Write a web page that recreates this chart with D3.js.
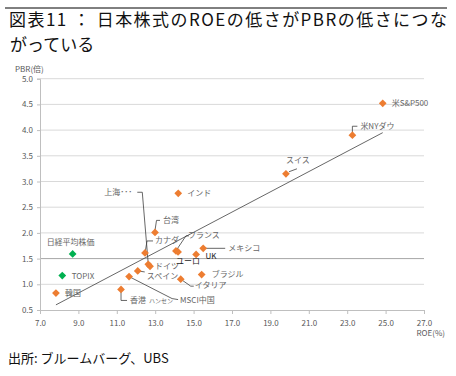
<!DOCTYPE html>
<html>
<head>
<meta charset="utf-8">
<script src="https://cdn.jsdelivr.net/npm/d3@7"></script>
<style>
body{margin:0;background:#fff;}
svg text{font-family:"Noto Sans CJK JP","Noto Sans",sans-serif;}
</style>
</head>
<body>
<div id="chart"></div>
<script>
// データ（国・指数名、ROE、PBR）
var names = ["米S&P500","米NYダウ","スイス","インド","台湾","カナダ","上海･･･","ドイツ","スペイン","MSCI中国","香港","フランス","ユーロ","UK","メキシコ","ブラジル","イタリア","韓国","日経平均株価","TOPIX"];
var roe   = [24.85,23.27,19.81,14.20,12.99,12.47,12.64,12.73,12.09,11.64,11.22,14.08,14.19,15.13,15.50,15.42,14.33,7.83,8.70,8.16];
var pbr   = [4.52,3.90,3.15,2.77,2.01,1.61,1.39,1.35,1.26,1.15,0.90,1.65,1.63,1.58,1.70,1.19,1.10,0.83,1.59,1.17];
var group = ["海外","海外","海外","海外","海外","海外","海外","海外","海外","海外","海外","海外","海外","海外","海外","海外","海外","海外","日本","日本"];

// 近似線（両端）
var trendRoe = [7.83,24.85];
var trendPbr = [0.60,3.95];

// 目盛
var xTicks = [7,9,11,13,15,17,19,21,23,25,27];
var yTicks = [0.5,1.0,1.5,2.0,2.5,3.0,3.5,4.0,4.5,5.0];

// ラベル配置（点からのずれ、引き出し線）
var labelPos = {
	"米S&P500":   {dx:9, dy:3},
	"米NYダウ":   {dx:8, dy:-6, line:[[0,-3],[0,-9],[5,-9]]},
	"スイス":     {dx:0, dy:-10.5, line:[[3,-2],[11,-5]]},
	"インド":     {dx:9, dy:3},
	"台湾":       {dx:8, dy:-9.8, line:[[0,-2],[1.5,-12],[5,-12]]},
	"カナダ":     {dx:10, dy:-9.7, line:[[0,0],[2,-12],[8,-12]]},
	"上海･･･":    {dx:-16, dy:-69, anchor:"end", line:[[0,0],[-6,-72],[-11,-72]]},
	"ドイツ":     {dx:5, dy:2.5, line:[[0,0],[3,0]]},
	"スペイン":   {dx:9, dy:8.5, line:[[0,0],[7,1]]},
	"MSCI中国":   {dx:51, dy:26, line:[[0,0],[43,22],[49,23]]},
	"香港":       {dx:9, dy:13.5, line:[[0,2],[0,11],[6,11]], small:"ハンセン"},
	"フランス":   {dx:12, dy:-13, line:[[0,0],[10,-15],[13,-15]]},
	"ユーロ":     {dx:-2, dy:12, dark:true},
	"UK":         {dx:9.5, dy:4.7, dark:true},
	"メキシコ":   {dx:25, dy:3, line:[[0,0],[22,0]]},
	"ブラジル":   {dx:10, dy:2.5},
	"イタリア":   {dx:14, dy:9, line:[[0,0],[10,7],[13,7]]},
	"韓国":       {dx:9, dy:3},
	"日経平均株価": {dx:-26, dy:-8.5},
	"TOPIX":      {dx:9.5, dy:3}
};

var W = 456, H = 376;
var svg = d3.select("#chart").append("svg").attr("width", W).attr("height", H);

// タイトル
svg.append("line").attr("x1",5).attr("x2",447).attr("y1",8).attr("y2",8)
	.attr("stroke","#000").attr("stroke-width",1);
svg.append("text").attr("x",9).attr("y",26).attr("font-size",17).attr("fill","#111")
	.attr("textLength",438).attr("lengthAdjust","spacing")
	.text("図表11 ： 日本株式のROEの低さがPBRの低さにつな");
svg.append("text").attr("x",10).attr("y",51).attr("font-size",17).attr("fill","#111")
	.text("がっている");

// スケール
var x = d3.scaleLinear().domain([7,27]).range([40,424]);
var y = d3.scaleLinear().domain([0.5,5.0]).range([310,78.7]);

// グリッド線
svg.append("g").selectAll("line").data(yTicks.slice(1)).enter().append("line")
	.attr("x1",x(7)).attr("x2",x(27))
	.attr("y1",function(d){return y(d);}).attr("y2",function(d){return y(d);})
	.attr("stroke",function(d){return d==1.5 ? "#a6a6a6" : "#d9d9d9";})
	.attr("stroke-width",1);

// X軸
var gx = svg.append("g").attr("transform","translate(0,"+y(0.5)+")")
	.call(d3.axisBottom(x).tickValues(xTicks).tickFormat(d3.format(".1f")).tickSize(4).tickPadding(6));
// Y軸
var gy = svg.append("g").attr("transform","translate("+x(7)+",0)")
	.call(d3.axisLeft(y).tickValues(yTicks).tickFormat(d3.format(".1f")).tickSize(3).tickPadding(4));
[gx,gy].forEach(function(g){
	g.select(".domain").attr("stroke","#bfbfbf");
	g.selectAll(".tick line").attr("stroke","#bfbfbf");
	g.selectAll(".tick text").attr("fill","#595959").attr("font-size",8)
		.attr("font-family","'Open Sans','Noto Sans',sans-serif");
});

svg.append("text").attr("x",15).attr("y",72).attr("font-size",8).attr("fill","#595959").text("PBR(倍)");
svg.append("text").attr("x",445).attr("y",336).attr("font-size",8).attr("fill","#595959")
	.attr("text-anchor","end").text("ROE(%)");

// 近似線
svg.append("line")
	.attr("x1",x(trendRoe[0])).attr("y1",y(trendPbr[0]))
	.attr("x2",x(trendRoe[1])).attr("y2",y(trendPbr[1]))
	.attr("stroke","#404040").attr("stroke-width",0.8);

var pts = names.map(function(n,i){ return {name:n, roe:roe[i], pbr:pbr[i], group:group[i]}; });

// 引き出し線
var leader = d3.line();
svg.append("g").selectAll("path").data(pts.filter(function(d){return labelPos[d.name].line;})).enter()
	.append("path")
	.attr("d",function(d){
		var px = x(d.roe), py = y(d.pbr);
		return leader(labelPos[d.name].line.map(function(p){return [px+p[0],py+p[1]];}));
	})
	.attr("fill","none").attr("stroke","#404040").attr("stroke-width",0.8);

// 点（ひし形）
var diamond = d3.symbol().type(d3.symbolSquare).size(30);
svg.append("g").selectAll("path").data(pts).enter().append("path")
	.attr("d",diamond)
	.attr("transform",function(d){return "translate("+x(d.roe)+","+y(d.pbr)+") rotate(45)";})
	.attr("fill",function(d){return d.group=="日本" ? "#00b050" : "#ed7d31";});

// ラベル
var lbl = svg.append("g").selectAll("text").data(pts).enter().append("text")
	.attr("x",function(d){return x(d.roe)+labelPos[d.name].dx;})
	.attr("y",function(d){return y(d.pbr)+labelPos[d.name].dy;})
	.attr("text-anchor",function(d){return labelPos[d.name].anchor || "start";})
	.attr("font-size",8)
	.attr("fill",function(d){return labelPos[d.name].dark ? "#1a1a1a" : "#666";})
	.text(function(d){return d.name;});
lbl.filter(function(d){return labelPos[d.name].small;})
	.append("tspan").attr("font-size",6).attr("dx",3).text(function(d){return labelPos[d.name].small;});

// 出所
svg.append("text").attr("x",8).attr("y",363).attr("font-size",13).attr("fill","#111")
	.text("出所: ブルームバーグ、UBS");
</script>
</body>
</html>
